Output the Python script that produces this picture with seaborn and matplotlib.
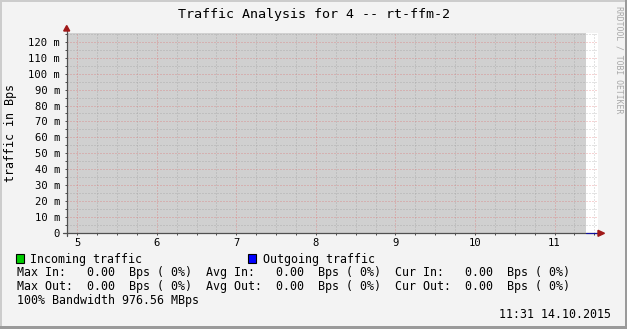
import numpy as np
import pandas as pd
import matplotlib
matplotlib.use("Agg")
import matplotlib.pyplot as plt
import seaborn as sns
from matplotlib.ticker import MultipleLocator, FuncFormatter
from matplotlib.patches import Polygon, Rectangle

# ---------------- data ----------------
title = "Traffic Analysis for 4 -- rt-ffm-2"
y_label = "traffic in Bps"
hour_ticks = [5, 6, 7, 8, 9, 10, 11]
unknown_span = [4.867, 11.40]           # period with no data (grey area)
time_h = [11.40, 11.54]                  # period with data
incoming_Bps = [0.0, 0.0]
outgoing_Bps = [0.0, 0.0]
legend_series = ["Incoming traffic", "Outgoing traffic"]
legend_colors = ["#00cc00", "#0000ff"]
stats_in = ["Max In:   0.00  Bps ( 0%)", "Avg In:   0.00  Bps ( 0%)", "Cur In:   0.00  Bps ( 0%)"]
stats_out = ["Max Out:  0.00  Bps ( 0%)", "Avg Out:  0.00  Bps ( 0%)", "Cur Out:  0.00  Bps ( 0%)"]
bandwidth_note = "100% Bandwidth 976.56 MBps"
timestamp = "11:31 14.10.2015"
watermark = "RRDTOOL / TOBI OETIKER"

# ---------------- style ----------------
W, H = 627, 329
sns.set_theme(style="white")
plt.rcParams["font.family"] = ["DejaVu Sans Mono", "DejaVu Sans"]

def fx(x):
    return x / W

def fy(y):
    return 1 - y / H

fig = plt.figure(figsize=(W / 100, H / 100), dpi=100, facecolor="#f3f3f3")

ax_l, ax_r, ax_t, ax_b = 66.7, 597.5, 32.5, 233.3
ax = fig.add_axes([fx(ax_l), fy(ax_b), (ax_r - ax_l) / W, (ax_b - ax_t) / H])
ax.set_facecolor("white")

df = pd.DataFrame({"hour": time_h, "in": incoming_Bps, "out": outgoing_Bps})

# grey "unknown" area
ax.axvspan(unknown_span[0], unknown_span[1], color="#d0d0d0", zorder=0.1, lw=0)
# data
ax.fill_between(df["hour"], df["in"], color=legend_colors[0], zorder=2, lw=0)
sns.lineplot(data=df, x="hour", y="out", color="#1010a0", lw=0.8, ax=ax,
             zorder=4, clip_on=False)

ax.set_xlim(unknown_span[0], 11.54)
ax.set_ylim(0, 0.1257)

ax.xaxis.set_major_locator(MultipleLocator(1))
ax.xaxis.set_minor_locator(MultipleLocator(0.25))
ax.yaxis.set_major_locator(MultipleLocator(0.01))
ax.yaxis.set_minor_locator(MultipleLocator(0.005))
ax.yaxis.set_major_formatter(FuncFormatter(lambda v, p: "0" if abs(v) < 1e-9 else f"{v*1000:.0f} m"))
ax.xaxis.set_major_formatter(FuncFormatter(lambda v, p: f"{v:.0f}"))

ax.set_axisbelow(True)
ax.grid(which="major", color="#e06060", alpha=0.55, lw=0.72, ls=(0, (1, 2)))
ax.grid(which="minor", color="#909090", alpha=0.5, lw=0.72, ls=(0, (1, 2)))

for s in ax.spines.values():
    s.set_visible(False)

ax.tick_params(axis="both", which="both", direction="out", length=1.5, width=0.72,
               color="#505050", bottom=True, left=True)
ax.tick_params(axis="y", which="major", labelsize=7.6, pad=3.2, labelcolor="black")
ax.tick_params(axis="x", which="major", labelsize=7.6, pad=1.8, labelcolor="black")
ax.set_xlabel("")
ax.set_ylabel("")

# axis lines with arrows
axis_col = "#505050"
arrow_col = "#a01818"
ax.plot([fx(62.7), fx(599)], [fy(ax_b), fy(ax_b)], transform=fig.transFigure,
        color=axis_col, lw=0.9, clip_on=False, zorder=3)
ax.plot([fx(ax_l), fx(ax_l)], [fy(ax_b + 2.5), fy(29)], transform=fig.transFigure,
        color=axis_col, lw=0.9, clip_on=False, zorder=3)
ax.add_patch(Polygon([[fx(598), fy(ax_b - 3)], [fx(598), fy(ax_b + 3)], [fx(604.5), fy(ax_b)]],
                     closed=True, transform=fig.transFigure, color=arrow_col, clip_on=False, zorder=5))
ax.add_patch(Polygon([[fx(ax_l - 3), fy(31)], [fx(ax_l + 3), fy(31)], [fx(ax_l), fy(25.5)]],
                     closed=True, transform=fig.transFigure, color=arrow_col, clip_on=False, zorder=5))

# title and labels
fig.text(fx(313.5), fy(17.7), title, ha="center", va="baseline", fontsize=9.6, color="black")
fig.text(fx(11), fy(133.3), y_label, ha="center", va="center", rotation=90, fontsize=8.4, color="black")
fig.text(fx(619), fy(60), watermark, ha="center", va="center", rotation=270, fontsize=5.9, color="#a8a8a8")

# legend
fs = 8.4
box_x = [16, 248.3]
text_x = [30, 263.3]
for bx, tx, name, col in zip(box_x, text_x, legend_series, legend_colors):
    fig.patches.append(Rectangle((fx(bx), fy(262.7)), 7.5 / W, 8.4 / H, transform=fig.transFigure,
                                 facecolor=col, edgecolor="black", lw=0.8, figure=fig))
    fig.text(fx(tx), fy(262.7), name, ha="left", va="baseline", fontsize=fs, color="black")

line_in = "  ".join(stats_in)
line_out = "  ".join(stats_out)
fig.text(fx(16.7), fy(276.3), line_in, ha="left", va="baseline", fontsize=fs, color="black")
fig.text(fx(16.7), fy(290.3), line_out, ha="left", va="baseline", fontsize=fs, color="black")
fig.text(fx(16.7), fy(304.2), bandwidth_note, ha="left", va="baseline", fontsize=fs, color="black")
fig.text(fx(611), fy(318.3), timestamp, ha="right", va="baseline", fontsize=fs, color="black")

# 3D-ish frame
fig.patches.append(Rectangle((0, fy(2)), 1, 2 / H, transform=fig.transFigure, color="#cccccc", lw=0, figure=fig))
fig.patches.append(Rectangle((0, 0), 2 / W, 1, transform=fig.transFigure, color="#cccccc", lw=0, figure=fig))
fig.patches.append(Rectangle((0, 0), 1, 3 / H, transform=fig.transFigure, color="#9a9a9a", lw=0, figure=fig))
fig.patches.append(Rectangle((fx(624.5), 0), 2.5 / W, 1, transform=fig.transFigure, color="#9a9a9a", lw=0, figure=fig))

fig.savefig("out.png", dpi=100, facecolor=fig.get_facecolor())
